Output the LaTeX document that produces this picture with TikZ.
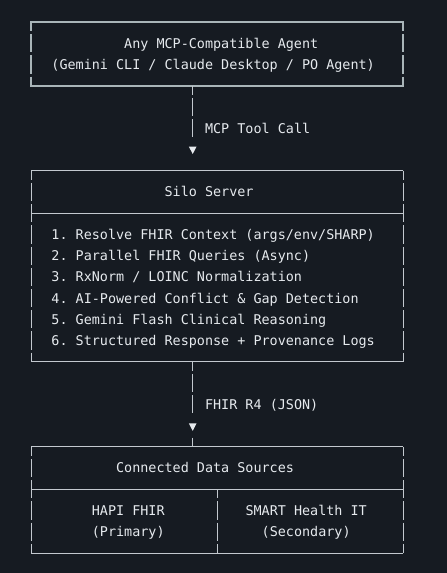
\documentclass[tikz,border=0pt]{standalone}
\usepackage{fontspec}
\setmonofont{DejaVu Sans Mono}
\definecolor{bg}{HTML}{161B22}
\definecolor{fg}{HTML}{E6EAEE}
\definecolor{ln}{HTML}{C3C9CF}
\definecolor{dl}{HTML}{A9B5B9}
\tikzset{
  txt/.style={anchor=base west, inner sep=0pt, text=fg, font=\ttfamily\fontsize{13.43}{16}\selectfont},
  hl/.style={draw=ln, line width=0.9pt},
  vl/.style={draw=ln, line width=0.9pt, dash pattern=on 18.24pt off 3pt, dash phase=9.12pt},
  thl/.style={draw=dl, line width=2.4pt, line cap=rect},
  tvl/.style={draw=dl, line width=2.4pt, dash pattern=on 18.24pt off 3pt, dash phase=9.12pt},
  boxarea/.style={inner sep=0pt, outer sep=0pt, minimum width=372pt},
  tipbox/.style={inner sep=0pt, outer sep=0pt, minimum width=7.7pt, minimum height=7.5pt},
  tipfill/.style={fill=fg},
}
\begin{document}
\begin{tikzpicture}[x=1pt,y=-1pt]
\path[fill=bg,use as bounding box] (0,0) rectangle (447,573);

% box areas
\node[boxarea, minimum height=63.72pt] (b1) at (217,53.86) {};
\node[boxarea, minimum height=191.16pt] (b2) at (217,266.26) {};
\node[boxarea, minimum height=106.2pt] (b3) at (217,499.9) {};
\coordinate (s2w) at (31,213.16);
\coordinate (s2e) at (403,213.16);
\coordinate (s3w) at (31,489.28);
\coordinate (s3e) at (403,489.28);
\coordinate (d3n) at (217,489.28);
\coordinate (d3s) at (217,553);

% arrow tips
\node[tipbox] (tip1) at (192.7,150.3) {};
\node[tipbox] (tip2) at (192.7,427.1) {};
\fill[tipfill] (tip1.north west) -- (tip1.north east) -- (tip1.south) -- cycle;
\fill[tipfill] (tip2.north west) -- (tip2.north east) -- (tip2.south) -- cycle;

% box 1 (heavy double-line border)
\draw[tvl] (b1.north west) -- (b1.south west);
\draw[tvl] (b1.north east) -- (b1.south east);
\draw[thl] (b1.north west) -- (b1.north east);
\draw[thl] (b1.south west) -- (b1.south east);

% box 2
\draw[vl] (b2.north west) -- (b2.south west);
\draw[vl] (b2.north east) -- (b2.south east);
\draw[hl] (b2.north west) -- (b2.north east);
\draw[hl] (b2.south west) -- (b2.south east);
\draw[hl] (s2w) -- (s2e);

% box 3
\draw[vl] (b3.north west) -- (b3.south west);
\draw[vl] (b3.north east) -- (b3.south east);
\draw[hl] (b3.north west) -- (b3.north east);
\draw[hl] (b3.south west) -- (b3.south east);
\draw[hl] (s3w) -- (s3e);
\draw[vl] (d3n) -- (d3s);

% connectors
\draw[vl] (tip1 |- b1.south) -- ([yshift=9pt]tip1.north);
\draw[vl] (tip2 |- b2.south) -- ([yshift=9pt]tip2.north);
\draw[hl] ([yshift=-6.85pt]tip2.south) -- (tip2 |- b3.north);

% texts
\node[txt] (a1) at (124.0,48.14) {Any MCP-Compatible Agent};
\node[txt] (a2) at (51.22,69.38) {(Gemini CLI / Claude Desktop / PO Agent)};
\node[txt] (c1) at (204.87,133.1) {MCP Tool Call};
\node[txt] (s0) at (164.44,196.82) {Silo Server};
\node[txt] (s1) at (51.22,239.3) {1. Resolve FHIR Context (args/env/SHARP)};
\node[txt] (s2) at (51.22,260.54) {2. Parallel FHIR Queries (Async)};
\node[txt] (s3) at (51.22,281.78) {3. RxNorm / LOINC Normalization};
\node[txt] (s4) at (51.22,303.02) {4. AI-Powered Conflict \& Gap Detection};
\node[txt] (s5) at (51.22,324.26) {5. Gemini Flash Clinical Reasoning};
\node[txt] (s6) at (51.22,345.5) {6. Structured Response + Provenance Logs};
\node[txt] (c2) at (204.87,409.22) {FHIR R4 (JSON)};
\node[txt] (d0) at (115.92,472.94) {Connected Data Sources};
\node[txt] (d1) at (91.66,515.42) {HAPI FHIR};
\node[txt] (d2) at (91.66,536.66) {(Primary)};
\node[txt] (d3) at (245.31,515.42) {SMART Health IT};
\node[txt] (d4) at (261.48,536.66) {(Secondary)};
\end{tikzpicture}
\end{document}
